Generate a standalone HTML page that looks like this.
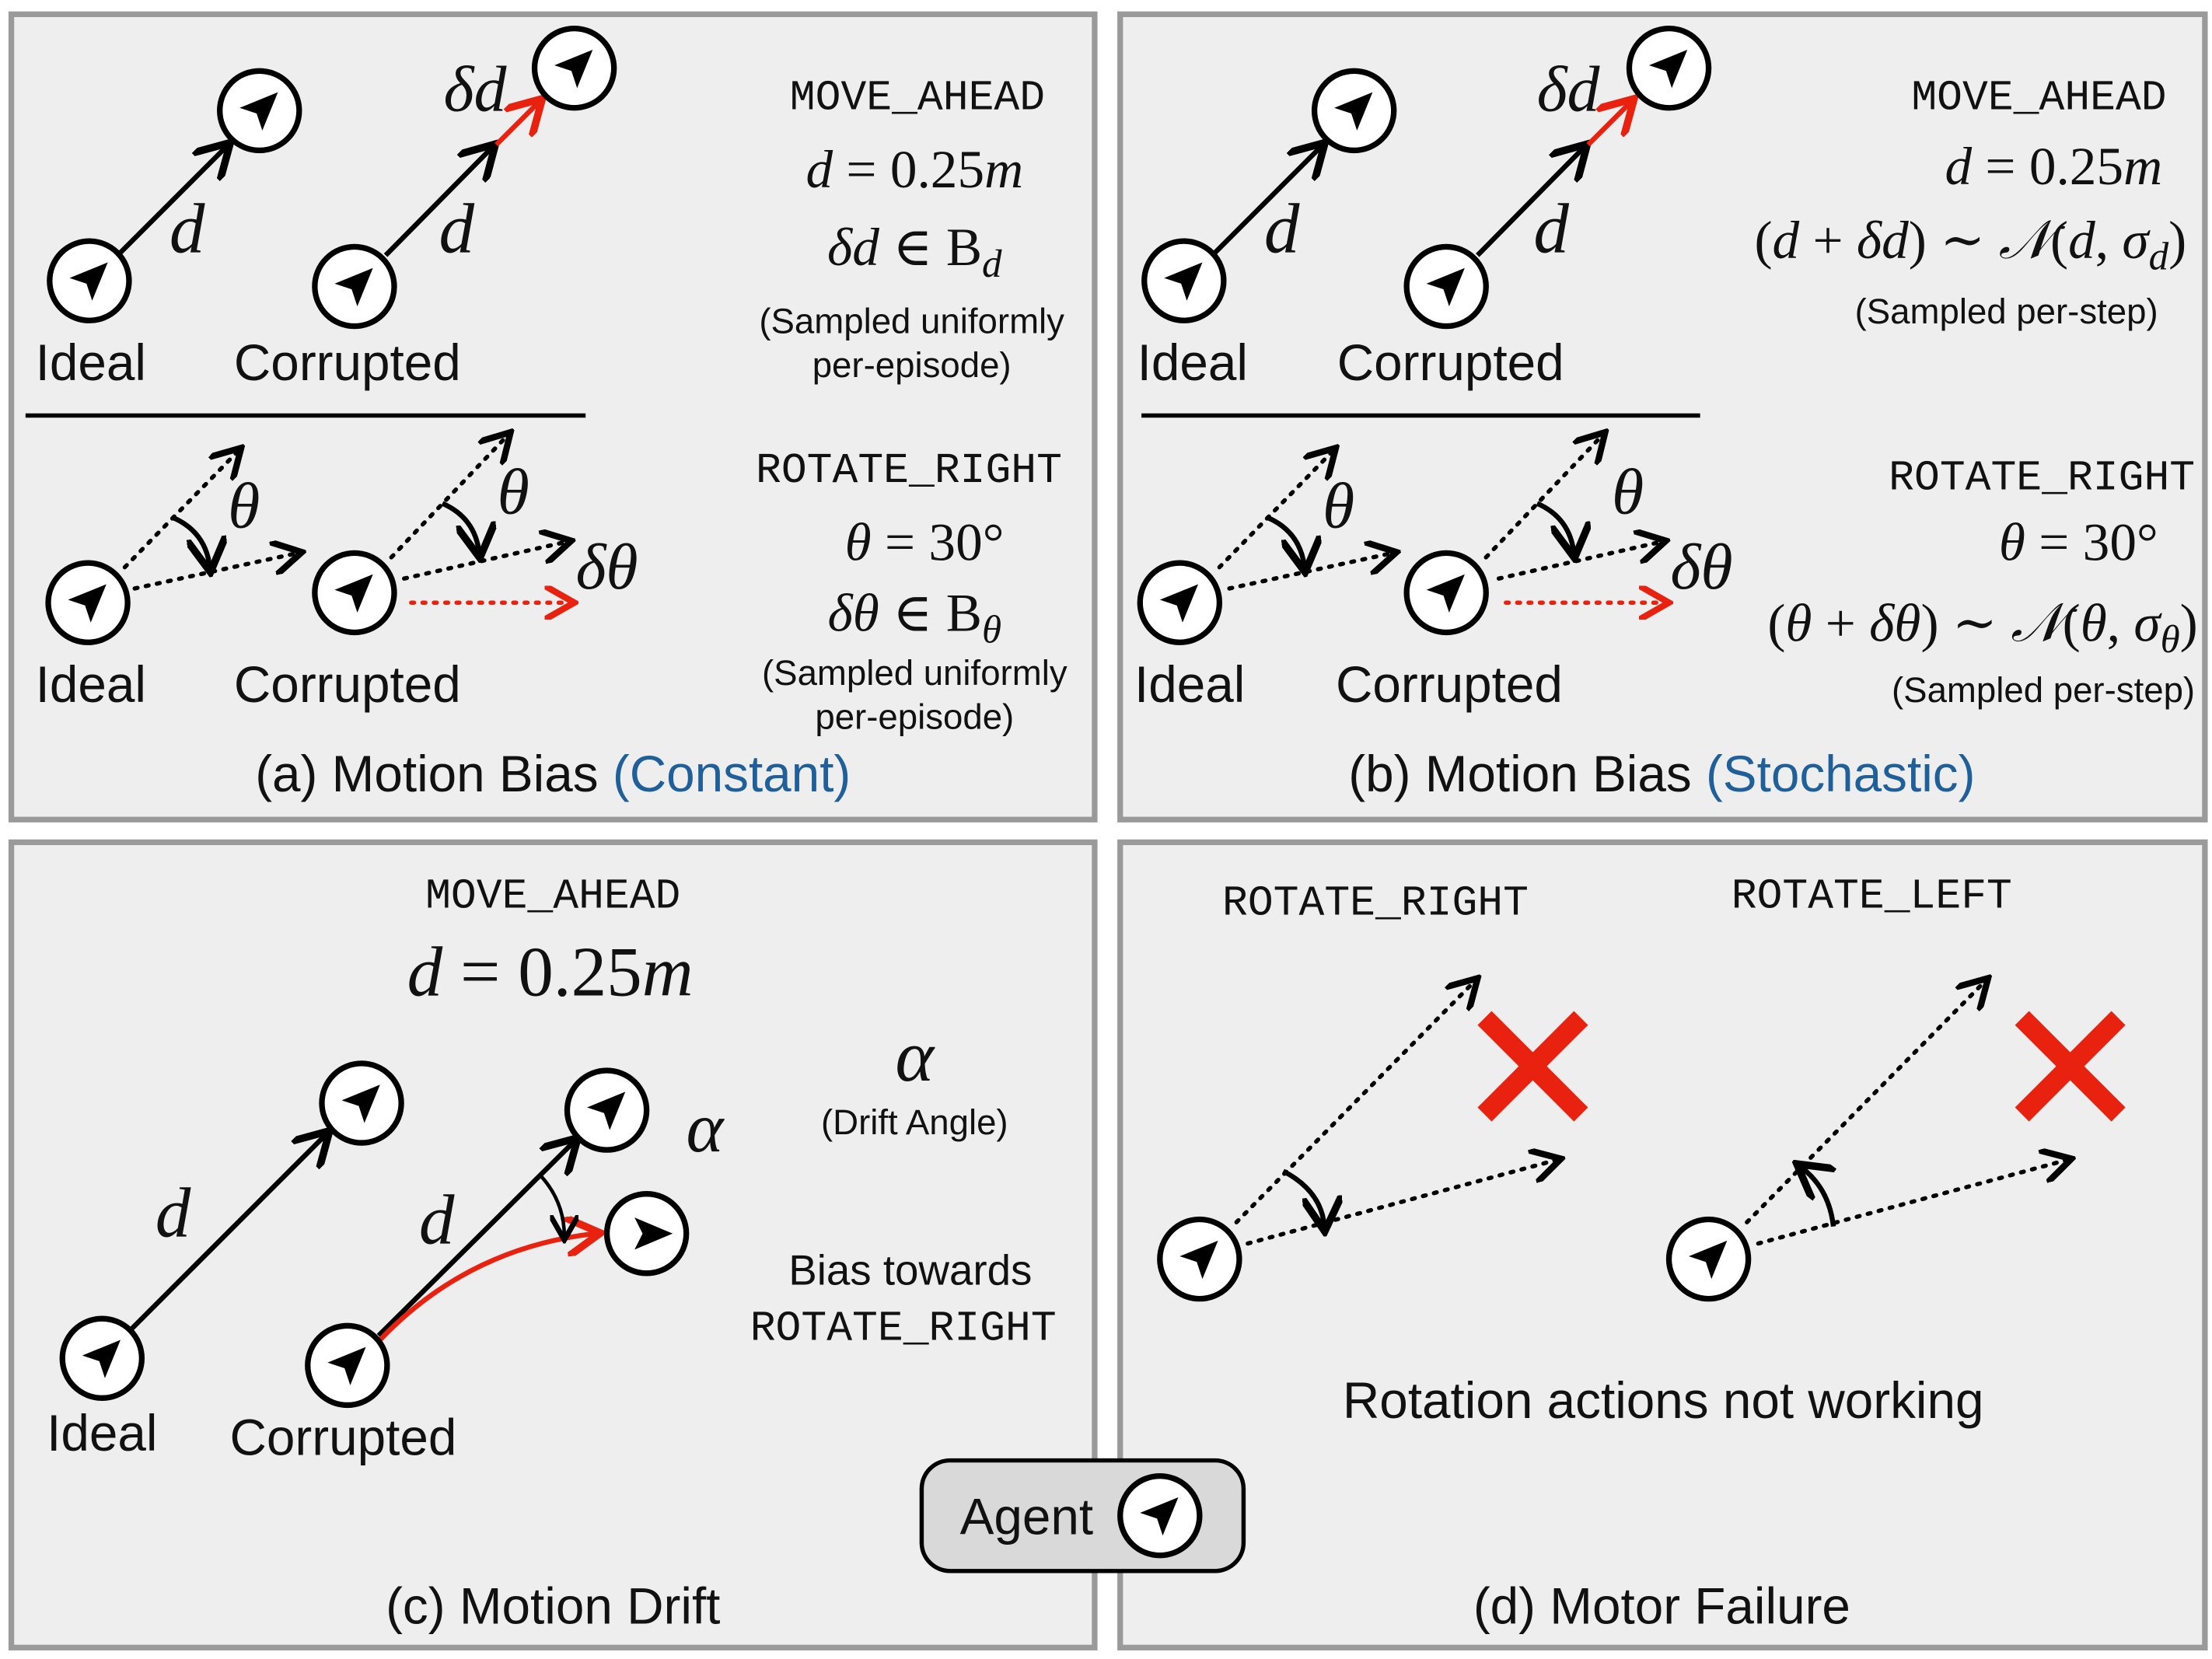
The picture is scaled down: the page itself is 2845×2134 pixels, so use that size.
<!DOCTYPE html>
<html><head><meta charset="utf-8"><style>
html,body{margin:0;padding:0;background:#fff;}
svg{display:block;}
.s{font-family:"Liberation Sans","DejaVu Sans",sans-serif;fill:#111;}
.m{font-family:"Liberation Mono","DejaVu Sans Mono",monospace;fill:#111;}
.r{font-family:"Liberation Serif","DejaVu Serif",serif;fill:#111;}
.i{font-style:italic;}
</style></head><body>
<svg width="2845" height="2134" viewBox="0 0 1560 1170" xmlns="http://www.w3.org/2000/svg">
<defs>
<g id="ag"><circle r="28" fill="#fff" stroke="#000" stroke-width="4"/><polygon points="13,-13 -14,-2 -2,2 2,14" fill="#000"/></g>
<marker id="ah" markerWidth="8" markerHeight="8" refX="6" refY="4" orient="auto" markerUnits="strokeWidth"><path d="M0,0 L7,4 L0,8" fill="none" stroke="#000" stroke-width="1.5"/></marker>
<marker id="ar" markerWidth="8" markerHeight="8" refX="6" refY="4" orient="auto" markerUnits="strokeWidth"><path d="M0,0 L7,4 L0,8" fill="none" stroke="#e8220e" stroke-width="1.5"/></marker>
</defs>
<rect width="1560" height="1170" fill="#fff"/>
<g fill="#eeeeee" stroke="#9a9a9a" stroke-width="4">
<rect x="8" y="10" width="764" height="568"/><rect x="790" y="10" width="765" height="568"/>
<rect x="8" y="594" width="764" height="568"/><rect x="790" y="594" width="765" height="568"/>
</g>
<!-- (a) -->
<g>
<line x1="85" y1="178" x2="160" y2="103" stroke="#000" stroke-width="3.5" marker-end="url(#ah)"/>
<line x1="272" y1="180" x2="347" y2="104" stroke="#000" stroke-width="3.5" marker-end="url(#ah)"/>
<line x1="350" y1="102" x2="380" y2="72" stroke="#e8220e" stroke-width="3.5" marker-end="url(#ar)"/>
<use href="#ag" x="63" y="198"/><use href="#ag" x="183" y="78"/><use href="#ag" x="250" y="202"/><use href="#ag" x="405" y="48"/>
<text x="132" y="178" class="r i" font-size="50" text-anchor="middle">d</text>
<text x="322" y="178" class="r i" font-size="50" text-anchor="middle">d</text>
<text x="335" y="78" class="r i" font-size="46" text-anchor="middle">δd</text>
<text x="25" y="268" class="s" font-size="36">Ideal</text>
<text x="165" y="268" class="s" font-size="36">Corrupted</text>
<line x1="18" y1="293" x2="413" y2="293" stroke="#000" stroke-width="3"/>
<g stroke="#000" stroke-width="3" stroke-dasharray="2,6" stroke-linecap="round" fill="none">
<line x1="88" y1="400" x2="168" y2="318" marker-end="url(#ah)"/><line x1="95" y1="415" x2="210" y2="390" marker-end="url(#ah)"/>
<line x1="276" y1="393" x2="358" y2="307" marker-end="url(#ah)"/><line x1="285" y1="408" x2="400" y2="382" marker-end="url(#ah)"/>
</g>
<line x1="290" y1="425" x2="402" y2="425" stroke="#e8220e" stroke-width="3" stroke-dasharray="2,6" stroke-linecap="round" marker-end="url(#ar)"/>
<path d="M122,365 Q145,375 148,400" stroke="#000" stroke-width="3.5" fill="none" marker-end="url(#ah)"/>
<path d="M312,355 Q335,365 338,390" stroke="#000" stroke-width="3.5" fill="none" marker-end="url(#ah)"/>
<use href="#ag" x="62" y="425"/><use href="#ag" x="250" y="418"/>
<text x="172" y="372" class="r i" font-size="46" text-anchor="middle">θ</text>
<text x="362" y="362" class="r i" font-size="46" text-anchor="middle">θ</text>
<text x="428" y="415" class="r i" font-size="46" text-anchor="middle">δθ</text>
<text x="25" y="495" class="s" font-size="36">Ideal</text>
<text x="165" y="495" class="s" font-size="36">Corrupted</text>
<g text-anchor="middle">
<text x="647" y="77" class="m" font-size="30">MOVE_AHEAD</text>
<text x="645" y="132" class="r" font-size="38"><tspan class="i">d</tspan> = 0.25<tspan class="i">m</tspan></text>
<text x="645" y="187" class="r" font-size="38"><tspan class="i">δd</tspan> ∈ B<tspan class="i" font-size="28" dy="8">d</tspan></text>
<text x="643" y="235" class="s" font-size="25">(Sampled uniformly</text>
<text x="643" y="266" class="s" font-size="25">per-episode)</text>
<text x="641" y="340" class="m" font-size="30">ROTATE_RIGHT</text>
<text x="652" y="395" class="r" font-size="38"><tspan class="i">θ</tspan> = 30°</text>
<text x="645" y="445" class="r" font-size="38"><tspan class="i">δθ</tspan> ∈ B<tspan class="i" font-size="28" dy="8">θ</tspan></text>
<text x="645" y="483" class="s" font-size="25">(Sampled uniformly</text>
<text x="645" y="514" class="s" font-size="25">per-episode)</text>
<text x="390" y="558" class="s" font-size="36">(a) Motion Bias <tspan fill="#1f5f9a">(Constant)</tspan></text>
</g>
</g>
<!-- (b) -->
<g>
<line x1="857" y1="178" x2="932" y2="103" stroke="#000" stroke-width="3.5" marker-end="url(#ah)"/>
<line x1="1042" y1="180" x2="1117" y2="104" stroke="#000" stroke-width="3.5" marker-end="url(#ah)"/>
<line x1="1120" y1="102" x2="1150" y2="72" stroke="#e8220e" stroke-width="3.5" marker-end="url(#ar)"/>
<use href="#ag" x="835" y="198"/><use href="#ag" x="955" y="78"/><use href="#ag" x="1020" y="202"/><use href="#ag" x="1177" y="48"/>
<text x="904" y="178" class="r i" font-size="50" text-anchor="middle">d</text>
<text x="1094" y="178" class="r i" font-size="50" text-anchor="middle">d</text>
<text x="1106" y="78" class="r i" font-size="46" text-anchor="middle">δd</text>
<text x="802" y="268" class="s" font-size="36">Ideal</text>
<text x="943" y="268" class="s" font-size="36">Corrupted</text>
<line x1="805" y1="293" x2="1199" y2="293" stroke="#000" stroke-width="3"/>
<g stroke="#000" stroke-width="3" stroke-dasharray="2,6" stroke-linecap="round" fill="none">
<line x1="860" y1="400" x2="940" y2="318" marker-end="url(#ah)"/><line x1="867" y1="415" x2="982" y2="390" marker-end="url(#ah)"/>
<line x1="1048" y1="393" x2="1130" y2="307" marker-end="url(#ah)"/><line x1="1057" y1="408" x2="1172" y2="382" marker-end="url(#ah)"/>
</g>
<line x1="1062" y1="425" x2="1174" y2="425" stroke="#e8220e" stroke-width="3" stroke-dasharray="2,6" stroke-linecap="round" marker-end="url(#ar)"/>
<path d="M894,365 Q917,375 920,400" stroke="#000" stroke-width="3.5" fill="none" marker-end="url(#ah)"/>
<path d="M1084,355 Q1107,365 1110,390" stroke="#000" stroke-width="3.5" fill="none" marker-end="url(#ah)"/>
<use href="#ag" x="832" y="425"/><use href="#ag" x="1020" y="418"/>
<text x="944" y="372" class="r i" font-size="46" text-anchor="middle">θ</text>
<text x="1148" y="362" class="r i" font-size="46" text-anchor="middle">θ</text>
<text x="1200" y="415" class="r i" font-size="46" text-anchor="middle">δθ</text>
<text x="800" y="495" class="s" font-size="36">Ideal</text>
<text x="942" y="495" class="s" font-size="36">Corrupted</text>
<g text-anchor="end">
<text x="1528" y="77" class="m" font-size="30">MOVE_AHEAD</text>
<text x="1525" y="130" class="r" font-size="38"><tspan class="i">d</tspan> = 0.25<tspan class="i">m</tspan></text>
<text x="1542" y="182" class="r" font-size="38">(<tspan class="i">d</tspan> + <tspan class="i">δd</tspan>) ∼ <tspan class="i">𝒩</tspan>(<tspan class="i">d</tspan>, <tspan class="i">σ</tspan><tspan class="i" font-size="28" dy="8">d</tspan><tspan dy="-8">)</tspan></text>
<text x="1522" y="228" class="s" font-size="25">(Sampled per-step)</text>
<text x="1548" y="345" class="m" font-size="30">ROTATE_RIGHT</text>
<text x="1522" y="395" class="r" font-size="38"><tspan class="i">θ</tspan> = 30°</text>
<text x="1550" y="452" class="r" font-size="38">(<tspan class="i">θ</tspan> + <tspan class="i">δθ</tspan>) ∼ <tspan class="i">𝒩</tspan>(<tspan class="i">θ</tspan>, <tspan class="i">σ</tspan><tspan class="i" font-size="28" dy="8">θ</tspan><tspan dy="-8">)</tspan></text>
<text x="1548" y="495" class="s" font-size="25">(Sampled per-step)</text>
</g>
<text x="1172" y="558" class="s" font-size="36" text-anchor="middle">(b) Motion Bias <tspan fill="#1f5f9a">(Stochastic)</tspan></text>
</g>
<!-- (c) -->
<g>
<text x="390" y="640" class="m" font-size="30" text-anchor="middle">MOVE_AHEAD</text>
<text x="388" y="702" class="r" font-size="50" text-anchor="middle"><tspan class="i">d</tspan> = 0.25<tspan class="i">m</tspan></text>
<line x1="93" y1="937" x2="230" y2="800" stroke="#000" stroke-width="3.5" marker-end="url(#ah)"/>
<line x1="267" y1="942" x2="405" y2="805" stroke="#000" stroke-width="3.5" marker-end="url(#ah)"/>
<path d="M268,945 Q330,880 420,870" stroke="#e8220e" stroke-width="3.5" fill="none" marker-end="url(#ar)"/>
<path d="M382,830 Q398,848 398,872" stroke="#000" stroke-width="2.5" fill="none" marker-end="url(#ah)"/>
<use href="#ag" x="72" y="958"/><use href="#ag" x="255" y="778"/><use href="#ag" x="245" y="963"/><use href="#ag" x="428" y="783"/>
<use href="#ag" transform="translate(456,870) rotate(45)"/>
<text x="122" y="872" class="r i" font-size="50" text-anchor="middle">d</text>
<text x="308" y="877" class="r i" font-size="50" text-anchor="middle">d</text>
<text x="497" y="812" class="r i" font-size="50" text-anchor="middle">α</text>
<text x="645" y="762" class="r i" font-size="52" text-anchor="middle">α</text>
<text x="645" y="800" class="s" font-size="25" text-anchor="middle">(Drift Angle)</text>
<text x="642" y="906" class="s" font-size="30" text-anchor="middle">Bias towards</text>
<text x="637" y="945" class="m" font-size="30" text-anchor="middle">ROTATE_RIGHT</text>
<text x="33" y="1023" class="s" font-size="36">Ideal</text>
<text x="162" y="1026" class="s" font-size="36">Corrupted</text>
<text x="390" y="1145" class="s" font-size="36" text-anchor="middle">(c) Motion Drift</text>
</g>
<!-- (d) -->
<g>
<text x="970" y="645" class="m" font-size="30" text-anchor="middle">ROTATE_RIGHT</text>
<text x="1320" y="640" class="m" font-size="30" text-anchor="middle">ROTATE_LEFT</text>
<g stroke="#000" stroke-width="3" stroke-dasharray="2,6" stroke-linecap="round" fill="none">
<line x1="872" y1="862" x2="1040" y2="692" marker-end="url(#ah)"/><line x1="880" y1="877" x2="1098" y2="818" marker-end="url(#ah)"/>
<line x1="1232" y1="862" x2="1400" y2="692" marker-end="url(#ah)"/><line x1="1240" y1="877" x2="1458" y2="818" marker-end="url(#ah)"/>
</g>
<path d="M905,826 Q932,840 934,865" stroke="#000" stroke-width="3.5" fill="none" marker-end="url(#ah)"/>
<path d="M1293,865 Q1290,838 1270,823" stroke="#000" stroke-width="3.5" fill="none" marker-end="url(#ah)"/>
<use href="#ag" x="846" y="888"/><use href="#ag" x="1205" y="888"/>
<g stroke="#e8220e" stroke-width="14">
<line x1="1047" y1="718" x2="1115" y2="786"/><line x1="1115" y1="718" x2="1047" y2="786"/>
<line x1="1426" y1="718" x2="1494" y2="786"/><line x1="1494" y1="718" x2="1426" y2="786"/>
</g>
<text x="1173" y="1000" class="s" font-size="36" text-anchor="middle">Rotation actions not working</text>
<text x="1172" y="1145" class="s" font-size="36" text-anchor="middle">(d) Motor Failure</text>
</g>
<!-- agent legend -->
<rect x="650" y="1030" width="227" height="78" rx="20" fill="#d9d9d9" stroke="#000" stroke-width="3"/>
<text x="724" y="1082" class="s" font-size="36" text-anchor="middle">Agent</text>
<use href="#ag" x="818" y="1069"/>
</svg>
</body></html>
